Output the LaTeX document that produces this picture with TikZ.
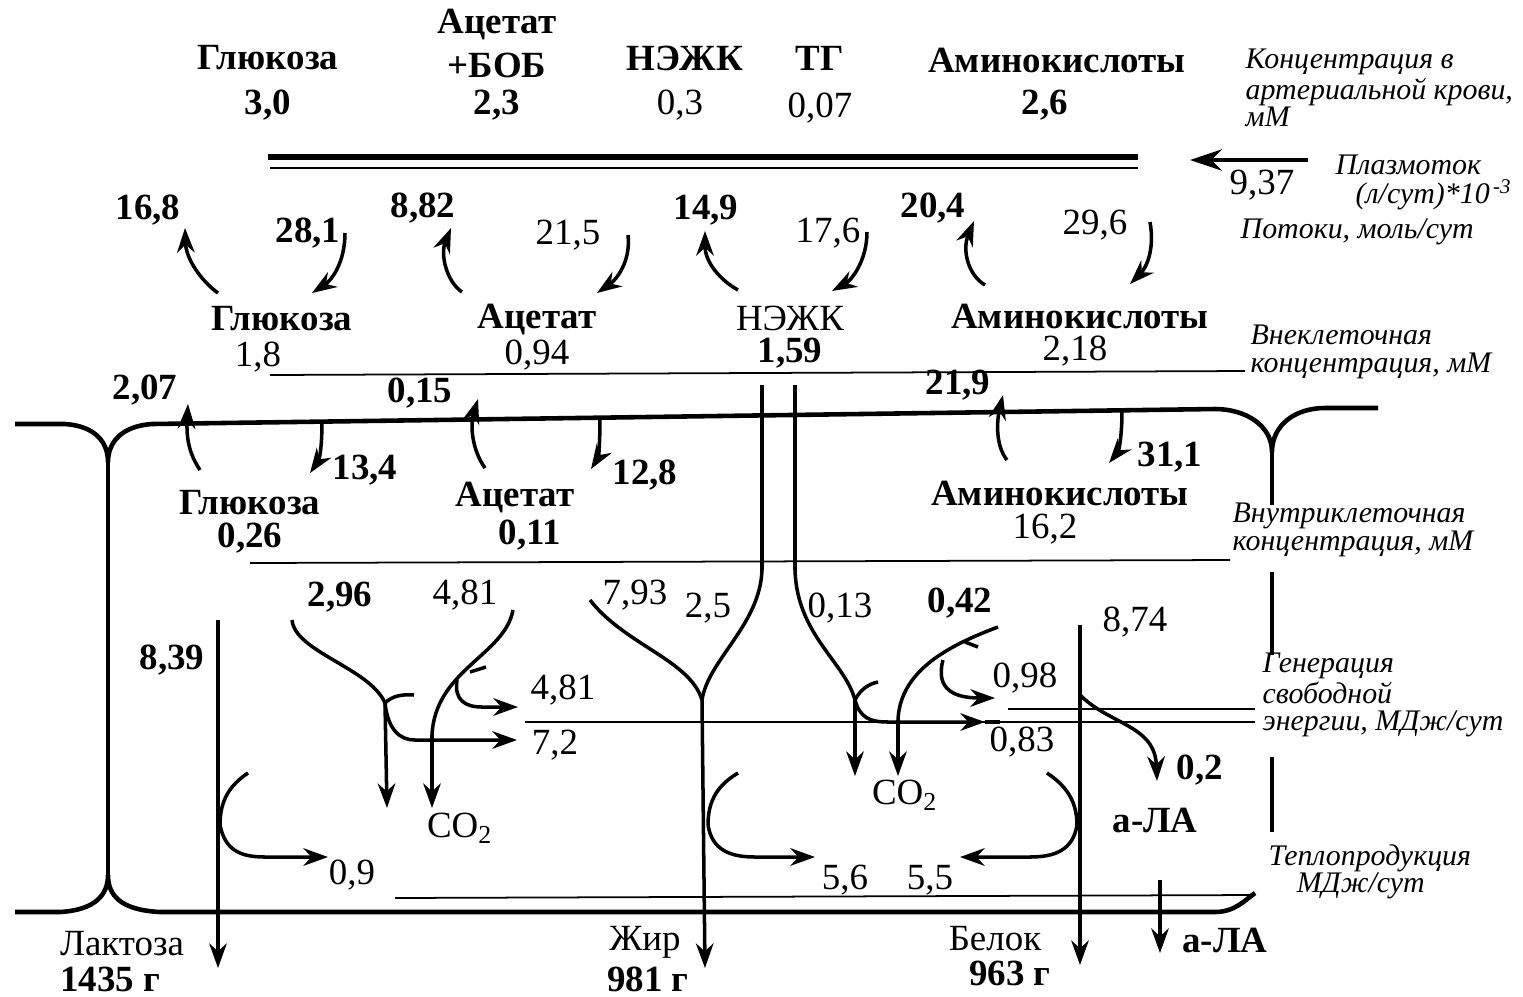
\documentclass[tikz,border=0pt]{standalone}
\usepackage{fontspec}
\setmainfont{Liberation Serif}
\usetikzlibrary{arrows.meta}

\begin{document}
\begin{tikzpicture}[x=0.01cm, y=-0.01cm,
    lbl/.style={font=\fontsize{10.5}{12}\selectfont, inner sep=0pt},
    blbl/.style={font=\fontsize{10.5}{12}\selectfont\bfseries, inner sep=0pt},
    note/.style={font=\fontsize{8.5}{7.8}\selectfont\itshape, align=left, anchor=west, inner sep=0pt},
    flux/.style={line width=1pt, -{Stealth[length=7pt,width=5pt]}},
    pipe/.style={line width=1pt},
    thinline/.style={line width=0.5pt},
    membrane/.style={line width=1.3pt}]
\useasboundingbox (0,0) rectangle (1523,996);

% arterial blood
\node[blbl] (glcArt) at (268,58) {Глюкоза};
\node[blbl] (glcArtV) at (268,105) {3,0};
\node[blbl] (acArt) at (497,25) {Ацетат};
\node[blbl] (bobArt) at (497,65) {+БОБ};
\node[blbl] (acArtV) at (497,105) {2,3};
\node[blbl] (nefaArt) at (685,58) {НЭЖК};
\node[lbl] (nefaArtV) at (680,105) {0,3};
\node[blbl] (tgArt) at (820,58) {ТГ};
\node[lbl] (tgArtV) at (820,108) {0,07};
\node[blbl] (aaArt) at (1057,60) {Аминокислоты};
\node[blbl] (aaArtV) at (1045,105) {2,6};
\node[note] (artNote) at (1245,88) {Концентрация в\\артериальной крови,\\мМ};

\draw[line width=1.6pt] (268,157) -- (1138,157);
\draw[thinline] (270,168) -- (1138,168);
\coordinate (plasmaR) at (1308,160);
\coordinate (plasmaL) at (1190,160);
\draw[line width=1.3pt, -{Stealth[length=9pt,width=6pt]}] (plasmaR) -- (plasmaL);
\node[lbl] (plasmaV) at (1262,185) {9,37};
\node[note] (plasmaNote) at (1335,165) {Плазмоток};
\node[note] (plasmaUnit) at (1355,195) {(л/сут)*10\textsuperscript{\,-3}};
\node[note] (fluxNote) at (1240,232) {Потоки, моль/сут};

% fluxes blood - extracellular
\node[blbl] (f168) at (148,210) {16,8};
\node[blbl] (f281) at (308,233) {28,1};
\node[blbl] (f882) at (423,208) {8,82};
\node[lbl] (f215) at (568,235) {21,5};
\node[blbl] (f149) at (706,210) {14,9};
\node[lbl] (f176) at (828,233) {17,6};
\node[blbl] (f204) at (933,208) {20,4};
\node[lbl] (f296) at (1095,225) {29,6};
\draw[flux] (218,293) .. controls (200,280) and (186,258) .. (185,228);
\draw[flux] (345,233) .. controls (345,262) and (332,280) .. (312,293);
\draw[flux] (462,292) .. controls (447,282) and (440,255) .. (451,228);
\draw[flux] (628,235) .. controls (631,262) and (616,280) .. (597,293);
\draw[flux] (738,290) .. controls (720,280) and (705,262) .. (705,231);
\draw[flux] (867,232) .. controls (867,260) and (852,280) .. (832,291);
\draw[flux] (985,285) .. controls (968,275) and (962,250) .. (974,221);
\draw[flux] (1150,222) .. controls (1155,250) and (1146,268) .. (1130,284);

% extracellular
\node[blbl] (glcEx) at (282,319) {Глюкоза};
\node[lbl] (glcExV) at (258,357) {1,8};
\node[blbl] (acEx) at (537,320) {Ацетат};
\node[lbl] (acExV) at (537,355) {0,94};
\node[lbl] (nefaEx) at (790,318) {НЭЖК};
\node[blbl] (nefaExV) at (790,353) {1,59};
\node[blbl] (aaEx) at (1080,316) {Аминокислоты};
\node[lbl] (aaExV) at (1075,351) {2,18};
\node[note] (exNote) at (1250,352) {Внеклеточная\\концентрация, мМ};
\draw[thinline] (270,375) -- (1245,371);

% membrane
\draw[membrane] (15,424) -- (65,424) .. controls (95,426) and (108,442) .. (108,462)
  .. controls (108,442) and (122,426) .. (152,424) -- (1215,409)
  .. controls (1245,409) and (1272,425) .. (1272,452)
  .. controls (1272,425) and (1295,408) .. (1325,408) -- (1378,408);
\draw[membrane] (108,462) -- (108,880);
\draw[membrane] (15,912) -- (60,912) .. controls (95,910) and (108,895) .. (108,875)
  .. controls (108,895) and (120,910) .. (160,912) -- (1215,912)
  .. controls (1235,912) and (1245,900) .. (1255,893);
\draw[membrane] (1272,452) -- (1272,505);
\draw[membrane] (1272,572) -- (1272,655);
\draw[pipe] (1272,757) -- (1272,832);

% fluxes through membrane
\node[blbl] (m207) at (145,390) {2,07};
\node[blbl] (m134) at (365,470) {13,4};
\node[blbl] (m015) at (420,393) {0,15};
\node[blbl] (m128) at (645,475) {12,8};
\node[blbl] (m219) at (958,385) {21,9};
\node[blbl] (m311) at (1170,457) {31,1};
\draw[flux] (200,470) .. controls (190,455) and (186,440) .. (188,404);
\draw[flux] (322,421) .. controls (322,450) and (319,460) .. (310,473);
\draw[flux] (485,468) .. controls (472,450) and (470,425) .. (478,399);
\draw[flux] (600,416) .. controls (600,450) and (598,458) .. (591,469);
\draw[flux] (1007,460) .. controls (995,445) and (997,420) .. (1003,395);
\draw[flux] (1122,411) .. controls (1122,440) and (1118,452) .. (1109,463);

% intracellular
\node[blbl] (glcIn) at (250,503) {Глюкоза};
\node[blbl] (glcInV) at (250,538) {0,26};
\node[blbl] (acIn) at (515,498) {Ацетат};
\node[blbl] (acInV) at (530,535) {0,11};
\node[blbl] (aaIn) at (1060,493) {Аминокислоты};
\node[lbl] (aaInV) at (1045,529) {16,2};
\node[note] (inNote) at (1232,530) {Внутриклеточная\\концентрация, мМ};
\draw[thinline] (250,563) -- (1230,560);

% NEFA channel
\coordinate (fatY) at (702,700);
\coordinate (nefaY) at (855,700);
\draw[pipe] (762,385) -- (762,570) .. controls (760,625) and (708,660) .. (fatY);
\draw[pipe] (795,385) -- (795,570) .. controls (797,635) and (845,662) .. (nefaY);
\draw[pipe] (590,600) .. controls (625,645) and (690,660) .. (fatY);

% glucose and acetate oxidation
\coordinate (glcY) at (385,703);
\node[blbl] (o296) at (340,597) {2,96};
\node[lbl] (o481) at (465,595) {4,81};
\draw[pipe] (292,620) .. controls (295,652) and (370,668) .. (glcY);
\draw[flux] (glcY) -- (387,808);
\draw[pipe] (glcY) .. controls (392,696) and (402,694) .. (414,695);
\draw[flux] (glcY) .. controls (388,730) and (400,740) .. (415,740) -- (517,740);
\draw[flux] (513,610) .. controls (505,655) and (435,670) .. (432,735) -- (432,808);
\draw[pipe] (470,672) -- (486,667);
\draw[flux] (457,680) .. controls (454,700) and (465,707) .. (482,707) -- (518,707);
\node[lbl] (e481) at (563,690) {4,81};
\node[lbl] (e72) at (555,745) {7,2};
\node[lbl] (co2a) at (460,828) {CO\textsubscript{2}};
\draw[thinline] (525,722) -- (1255,722);
\draw[thinline] (1008,709) -- (1255,709);
\node[note] (genNote) at (1262,695) {Генерация\\свободной\\энергии, МДж/сут};

% lactose
\node[blbl] (o839) at (172,660) {8,39};
\draw[flux] (218,620) -- (218,968);
\draw[pipe] (248,773) .. controls (230,785) and (220,800) .. (220,825);
\draw[flux] (220,825) .. controls (225,850) and (240,857) .. (265,857) -- (328,857);
\node[lbl] (h09) at (352,875) {0,9};

% fat
\node[lbl] (o793) at (635,595) {7,93};
\node[lbl] (o25) at (708,608) {2,5};
\draw[flux] (fatY) -- (705,968);
\draw[pipe] (738,773) .. controls (718,785) and (708,800) .. (708,825);
\draw[flux] (708,825) .. controls (712,850) and (730,857) .. (755,857) -- (815,857);
\node[lbl] (h56) at (845,880) {5,6};

% NEFA and amino acids oxidation
\node[lbl] (o013) at (840,608) {0,13};
\node[blbl] (o042) at (960,603) {0,42};
\draw[flux] (nefaY) -- (855,776);
\draw[pipe] (nefaY) .. controls (860,690) and (868,684) .. (878,682);
\draw[flux] (nefaY) .. controls (860,718) and (870,722) .. (888,722) -- (985,722);
\draw[pipe] (985,722) -- (1000,722);
\draw[flux] (998,627) .. controls (950,645) and (900,670) .. (898,720) -- (898,776);
\draw[pipe] (965,642) -- (978,647);
\draw[flux] (943,660) .. controls (935,690) and (955,698) .. (995,698);
\node[lbl] (e098) at (1025,678) {0,98};
\node[lbl] (e083) at (1022,742) {0,83};
\node[lbl] (co2b) at (905,795) {CO\textsubscript{2}};

% protein
\node[lbl] (o874) at (1135,622) {8,74};
\draw[flux] (1080,625) -- (1080,965);
\draw[flux] (1080,695) .. controls (1110,725) and (1155,725) .. (1157,781);
\node[blbl] (o02) at (1200,770) {0,2};
\node[blbl] (alaIn) at (1155,820) {а-ЛА};
\draw[pipe] (1047,773) .. controls (1065,785) and (1077,800) .. (1077,825);
\draw[flux] (1077,825) .. controls (1073,850) and (1055,857) .. (1030,857) -- (960,857);
\node[lbl] (h55) at (930,880) {5,5};

% heat production
\draw[thinline] (395,898) -- (1255,895);
\node[note] (heatNote) at (1268,872) {Теплопродукция\\\hspace*{8pt}МДж/сут};

% milk output
\node[lbl] (lact) at (122,944) {Лактоза};
\node[blbl] (lactV) at (110,979) {1435 г};
\node[lbl] (fat) at (645,942) {Жир};
\node[blbl] (fatV) at (648,979) {981 г};
\node[lbl] (prot) at (995,939) {Белок};
\node[blbl] (protV) at (1010,973) {963 г};
\draw[flux] (1160,880) -- (1160,953);
\node[blbl] (alaOut) at (1225,940) {а-ЛА};
\end{tikzpicture}
\end{document}
